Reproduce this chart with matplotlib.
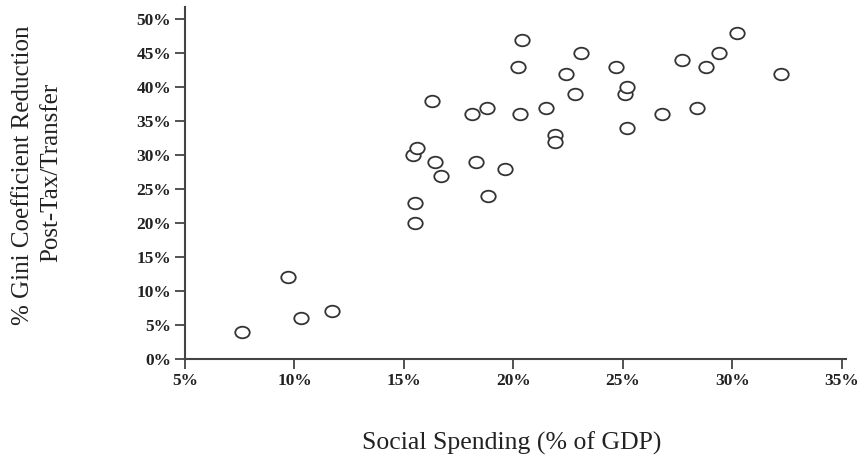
import matplotlib
matplotlib.use("Agg")
import matplotlib.pyplot as plt
from matplotlib.path import Path
from matplotlib.transforms import Affine2D
from matplotlib.ticker import FixedLocator

# Social spending (% of GDP) and Gini reduction after taxes/transfers (%)
social_spending = [7.6, 9.7, 10.3, 11.7,
                   15.5, 15.5, 15.4, 15.6,
                   16.3, 16.4, 16.7, 18.1, 18.8, 18.3, 19.6, 18.85,
                   20.2, 20.4, 20.3, 21.5, 21.9, 21.9, 22.4, 22.8,
                   23.1, 24.7, 25.1, 25.2, 25.2, 26.8, 27.7, 28.4,
                   28.8, 29.4, 30.2, 32.2]
gini_reduction = [4, 12, 6, 7,
                  20, 23, 30, 31,
                  38, 29, 27, 36, 37, 29, 28, 24,
                  43, 47, 36, 37, 33, 32, 42, 39,
                  45, 43, 39, 40, 34, 36, 44, 37,
                  43, 45, 48, 42]

x_ticks = [5, 10, 15, 20, 25, 30, 35]
y_ticks = [0, 5, 10, 15, 20, 25, 30, 35, 40, 45, 50]

fig = plt.figure(figsize=(8.67, 4.61), dpi=100)
ax = fig.add_axes([0.2134, 0.2213, 0.7626, 0.7635])

# slightly wide open ellipse marker
ellipse = Affine2D().scale(1.25, 1.0).transform_path(Path.unit_circle())

ax.scatter(social_spending, gini_reduction, marker=ellipse, s=10.4 ** 2,
           facecolors="white", edgecolors="#333333", linewidths=1.3, zorder=3)

ax.set_xlim(5, 35.2)
ax.set_ylim(0, 51.8)
ax.xaxis.set_major_locator(FixedLocator(x_ticks))
ax.yaxis.set_major_locator(FixedLocator(y_ticks))
ax.set_xticklabels([f"{t}%" for t in x_ticks])
ax.set_yticklabels([f"{t}%" for t in y_ticks])

for side in ("top", "right"):
    ax.spines[side].set_visible(False)
for side in ("left", "bottom"):
    ax.spines[side].set_color("#444444")
    ax.spines[side].set_linewidth(1.5)

ax.tick_params(axis="both", direction="out", length=7, width=1.3,
               color="#444444")
ax.tick_params(axis="x", pad=3)
ax.tick_params(axis="y", pad=3)
for lab in ax.get_xticklabels() + ax.get_yticklabels():
    lab.set_fontfamily(["Liberation Serif", "DejaVu Serif"])
    lab.set_fontweight("bold")
    lab.set_fontsize(12.5)
    lab.set_color("#222222")

label_font = dict(family=["Liberation Serif", "DejaVu Serif"], size=18,
                  color="#222222")
fig.text(0.590, 0.039, "Social Spending (% of GDP)", ha="center", va="center",
         size=18.5, family=label_font["family"], color=label_font["color"])
fig.text(0.026, 0.620, "% Gini Coefficient Reduction", rotation=90,
         ha="center", va="center", **label_font)
fig.text(0.059, 0.625, "Post-Tax/Transfer", rotation=90,
         ha="center", va="center", **label_font)

fig.savefig("out.png", dpi=100)
